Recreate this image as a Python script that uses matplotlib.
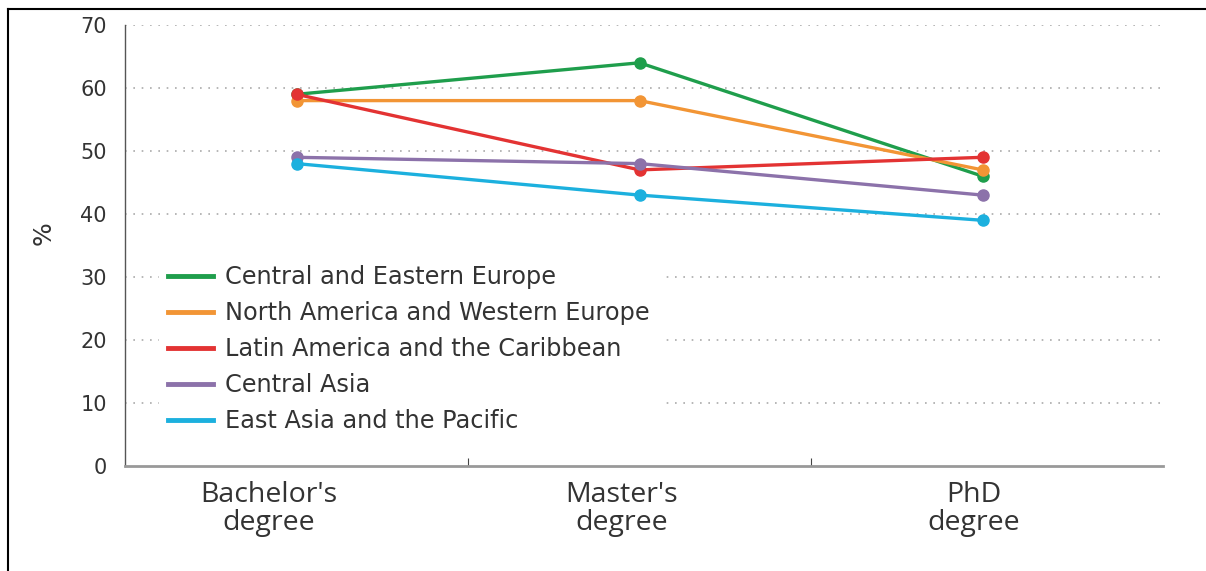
import matplotlib
matplotlib.use("Agg")
import matplotlib.pyplot as plt
from matplotlib.lines import Line2D

categories = ["Bachelor's\ndegree", "Master's\ndegree", "PhD\ndegree"]
series_names = ["Central and Eastern Europe", "North America and Western Europe",
                "Latin America and the Caribbean", "Central Asia", "East Asia and the Pacific"]
cee = [59, 64, 46]
nawe = [58, 58, 47]
lac = [59, 47, 49]
ca = [49, 48, 43]
eap = [48, 43, 39]
series_values = [cee, nawe, lac, ca, eap]
colors = ["#1f9e4c", "#f29535", "#e33333", "#8c72aa", "#1cb0de"]
yticks = [0, 10, 20, 30, 40, 50, 60, 70]

plt.rcParams['font.family'] = ['DejaVu Sans']

fig = plt.figure(figsize=(12.06, 5.71), dpi=100)
ax = fig.add_axes([125/1206, 1-466/571, (1163-125)/1206, (466-25)/571])

xs = [0.5, 1.5, 2.5]
label_pos = [0.42, 1.448, 2.474]
for name, vals, c in zip(series_names, series_values, colors):
    ax.plot(xs, vals, color=c, lw=2.4, marker='o', ms=8, label=name, zorder=3)

ax.set_xlim(0, 3.026)
ax.set_ylim(0, 70)
ax.set_yticks(yticks)
ax.set_yticklabels([str(v) for v in yticks], fontsize=15, color="#333333")
ax.tick_params(axis='y', length=0, pad=13)
ax.set_xticks([1, 2])
ax.set_xticklabels([])
ax.tick_params(axis='x', length=6, direction='in', color="#444444", width=0.8)
ax.set_xticks(label_pos, minor=True)
ax.set_xticklabels(categories, minor=True, fontsize=20.5, color="#333333",
                   family=['Open Sans', 'DejaVu Sans'], linespacing=1.0)
ax.tick_params(axis='x', which='minor', length=0, pad=11)

for y in yticks[1:]:
    ax.axhline(y, color="#aaaaaa", lw=1.2, ls=(0, (1, 4)), zorder=1)

for s in ['top', 'right']:
    ax.spines[s].set_visible(False)
ax.spines['left'].set_color("#555555")
ax.spines['left'].set_linewidth(1.0)
ax.spines['bottom'].set_color("#999999")
ax.spines['bottom'].set_linewidth(2.0)

ax.set_ylabel("%", fontsize=18, color="#333333")
ax.yaxis.set_label_coords(-0.0665, 0.528)

leg = ax.legend(loc='lower left', bbox_to_anchor=(0.021, 0.025), frameon=True,
                facecolor='white', edgecolor='none', framealpha=1, fontsize=17.3,
                handlelength=1.87, handletextpad=0.5, labelspacing=0.5,
                borderpad=0.4)
for h in leg.legend_handles:
    h.set_marker('')
    h.set_linewidth(3.5)
for t in leg.get_texts():
    t.set_color("#333333")
leg.set_zorder(2)

# frame lines (top and left)
fig.add_artist(Line2D([8/1206, 1], [1-9/571, 1-9/571], color='black', lw=1.5, transform=fig.transFigure))
fig.add_artist(Line2D([8/1206, 8/1206], [0, 1-9/571], color='black', lw=1.5, transform=fig.transFigure))

fig.savefig("out.png", dpi=100)
